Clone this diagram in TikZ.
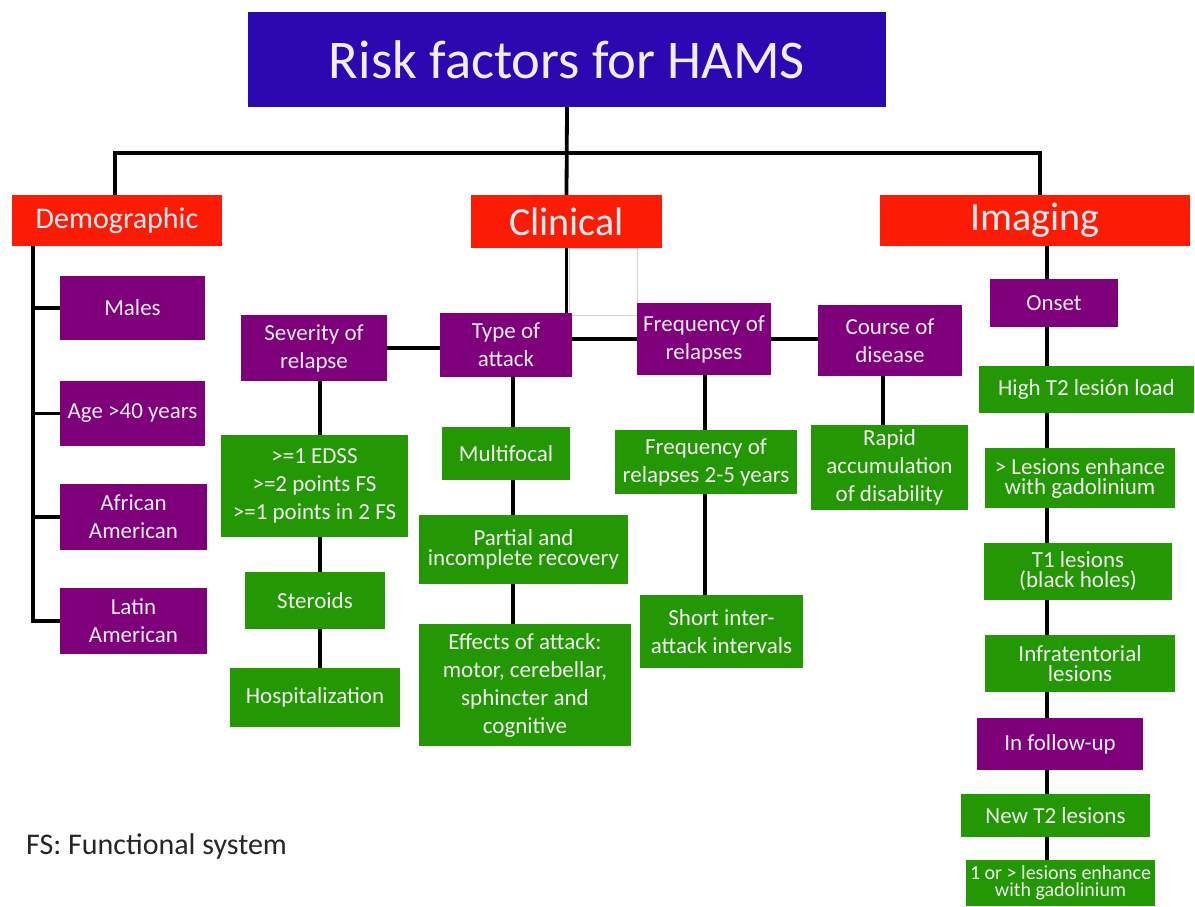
\documentclass[tikz,border=0pt]{standalone}
\usepackage{fontspec}
\setmainfont{Carlito}
\usetikzlibrary{backgrounds}
\definecolor{titleblue}{RGB}{44,8,178}
\definecolor{redc}{RGB}{252,28,6}
\definecolor{purp}{RGB}{126,0,122}
\definecolor{grn}{RGB}{36,152,4}
\definecolor{txt}{RGB}{240,236,240}
\newcommand\bodyf{\fontsize{23}{28}\selectfont}
\newcommand\tightf{\fontsize{23}{20}\selectfont}
\begin{document}
\begin{tikzpicture}[x=1pt,y=-1pt,
  boxbase/.style={inner sep=0pt, align=center, text=txt, font=\bodyf},
  pbox/.style={boxbase, fill=purp},
  gbox/.style={boxbase, fill=grn},
  rbox/.style={boxbase, fill=redc},
  conn/.style={line width=3.8pt, black}]
\useasboundingbox (0,0) rectangle (1195,906);
% title and categories
\node[boxbase, fill=titleblue, minimum width=638pt, minimum height=95pt, font=\fontsize{54.5}{60}\selectfont] (title) at (567,59.5) {Risk factors for HAMS};
\node[rbox, minimum width=210pt, minimum height=51pt, font=\fontsize{30}{34}\selectfont] (demo) at (117,220.5) {Demographic};
\node[rbox, minimum width=191pt, minimum height=53pt, font=\fontsize{40}{44}\selectfont] (clin) at (566.5,221.5) {Clinical};
\node[rbox, minimum width=310pt, minimum height=51pt, font=\fontsize{40}{44}\selectfont] (imag) at (1035,220.5) {Imaging};
% demographic
\node[pbox, minimum width=145pt, minimum height=64pt] (males) at (132.5,308) {Males};
\node[pbox, minimum width=145pt, minimum height=65pt] (age) at (132.5,413.5) {Age >40 years};
\node[pbox, minimum width=147pt, minimum height=66pt] (afr) at (133.5,517) {African\\American};
\node[pbox, minimum width=147pt, minimum height=66pt] (lat) at (133.5,621) {Latin\\American};
% clinical
\node[pbox, minimum width=146pt, minimum height=66pt] (sev) at (314,348) {Severity of\\relapse};
\node[pbox, minimum width=132pt, minimum height=64pt] (type) at (506,345) {Type of\\attack};
\node[pbox, minimum width=134pt, minimum height=72pt] (freq) at (704,339) {Frequency of\\relapses};
\node[pbox, minimum width=144pt, minimum height=71pt] (course) at (890,340.5) {Course of\\disease};
\node[gbox, minimum width=187pt, minimum height=102pt] (edss) at (314.5,486) {>=1 EDSS\\>=2 points FS\\>=1 points in 2 FS};
\node[gbox, minimum width=140pt, minimum height=57pt] (ster) at (315,600.5) {Steroids};
\node[gbox, minimum width=170pt, minimum height=59pt] (hosp) at (315,697.5) {Hospitalization};
\node[gbox, minimum width=128pt, minimum height=53pt] (multi) at (506,453.5) {Multifocal};
\node[gbox, minimum width=209pt, minimum height=69pt, font=\tightf] (part) at (523.5,549.5) {Partial and\\incomplete recovery};
\node[gbox, minimum width=212pt, minimum height=122pt] (eff) at (525,685) {Effects of attack:\\motor, cerebellar,\\sphincter and\\cognitive};
\node[gbox, minimum width=182pt, minimum height=64pt] (f25) at (706,462) {Frequency of\\relapses 2-5 years};
\node[gbox, minimum width=163pt, minimum height=73pt] (short) at (721.5,631.5) {Short inter-\\attack intervals};
\node[gbox, minimum width=157pt, minimum height=85pt] (rapid) at (889.5,467.5) {Rapid\\accumulation\\of disability};
% imaging
\node[pbox, minimum width=128pt, minimum height=48pt] (onset) at (1054,303) {Onset};
\node[gbox, minimum width=215pt, minimum height=47pt] (hight2) at (1086.5,389.5) {High T2 lesión load};
\node[gbox, minimum width=190pt, minimum height=60pt, font=\tightf] (enh) at (1080,478) {> Lesions enhance\\with gadolinium};
\node[gbox, minimum width=188pt, minimum height=57pt, font=\tightf] (t1) at (1078,571.5) {T1 lesions\\(black holes)};
\node[gbox, minimum width=190pt, minimum height=57pt, font=\tightf] (infra) at (1080,663.5) {Infratentorial\\lesions};
\node[pbox, minimum width=166pt, minimum height=52pt] (fup) at (1060,744) {In follow-up};
\node[gbox, minimum width=189pt, minimum height=43pt] (newt2) at (1055.5,815.5) {New T2 lesions};
\node[gbox, minimum width=189pt, minimum height=46pt, font=\fontsize{20}{17}\selectfont] (last) at (1060.5,883) {1 or > lesions enhance\\with gadolinium};
% footnote
\node[anchor=west, inner sep=0pt, text=black!85, font=\fontsize{30}{34}\selectfont] (fs) at (26,846) {FS: Functional system};
% connectors
\begin{pgfonlayer}{background}
\fill[white] (0,0) rectangle (1195,906);
\draw[conn] (title.south) -- (clin.north);
\draw[conn] ([xshift=-2pt]demo.north) -- ++(0,-42) -| ([xshift=5pt]imag.north);
\coordinate (dsp) at ([xshift=-84pt]demo.south);
\draw[conn] (dsp) |- (lat.west);
\draw[conn] (dsp |- males.west) -- (males.west);
\draw[conn] (dsp |- age.west) -- (age.west);
\draw[conn] (dsp |- afr.west) -- (afr.west);
\draw[conn] (clin.south) -- (clin.south |- type.north);
\draw[conn] (sev.east) -- (sev.east -| type.west);
\draw[conn] (freq.west) -- (freq.west -| type.east);
\draw[conn] (freq.east) -- (freq.east -| course.west);
\draw[conn] ([xshift=6pt]sev.south) -- ([xshift=6pt]sev.south |- hosp.north);
\draw[conn] ([xshift=7pt]type.south) -- ([xshift=7pt]type.south |- eff.north);
\draw[conn] ([xshift=1pt]freq.south) -- ([xshift=1pt]freq.south |- short.north);
\draw[conn] ([xshift=-7pt]course.south) -- ([xshift=-7pt]course.south |- rapid.north);
\draw[conn] ([xshift=12pt]imag.south) -- ([xshift=12pt]imag.south |- last.north);
\draw[black!18, line width=1pt] (569,248) rectangle (637,315);
\end{pgfonlayer}
\end{tikzpicture}
\end{document}
